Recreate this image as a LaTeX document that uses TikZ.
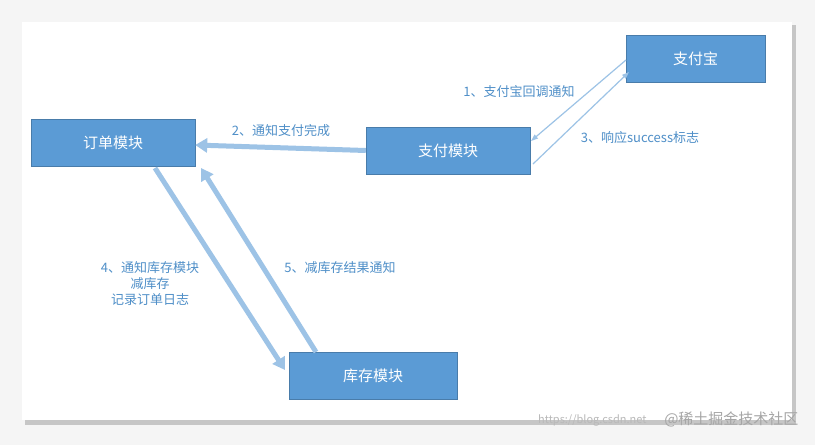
\documentclass[tikz,border=0pt]{standalone}
\usepackage{fontspec}
\setmainfont{Noto Sans CJK SC}
\usetikzlibrary{arrows.meta}
\definecolor{boxc}{HTML}{5B9BD5}
\definecolor{lblc}{HTML}{4F8FC8}
\definecolor{arrc}{HTML}{9DC3E6}
\tikzset{
 mod/.style={draw=boxc!80!black, line width=0.4pt, fill=boxc, text=white, minimum width=#1, minimum height=47pt, inner sep=0pt, font=\fontsize{15}{15}\selectfont},
 lbl/.style={text=lblc, font=\fontsize{13}{16}\selectfont, align=center},
 thick arr/.style={draw=arrc, line width=5pt, -{Triangle[length=12pt,width=14pt]}},
 thin arr/.style={draw=arrc, line width=1.2pt, -{Triangle[length=7pt,width=5pt]}}
}
\begin{document}
\begin{tikzpicture}[x=1pt,y=-1pt]
\useasboundingbox (0,0) rectangle (815,445);
\fill[gray!8] (0,0) rectangle (815,445);
\fill[gray!45] (25,25) rectangle (796,425);
\fill[white] (22,22) rectangle (792,420);
\node[mod=139pt] (zfb) at (695.5,58.5) {支付宝};
\node[mod=164pt] (dd) at (113,143) {订单模块};
\node[mod=164pt] (zf) at (448,150.5) {支付模块};
\node[mod=168pt] (kc) at (373,376) {库存模块};
\coordinate (a1) at (626,60); \coordinate (b1) at (531,141);
\draw[thin arr] (a1) -- (b1);
\coordinate (a3) at (533,164); \coordinate (b3) at (629,72);
\draw[thin arr] (a3) -- (b3);
\draw[thick arr] (zf.west) -- ([yshift=-2pt]dd.east);
\coordinate (a4) at (155,168); \coordinate (b4) at (285,370);
\draw[thick arr] (a4) -- (b4);
\coordinate (a5) at (316,352); \coordinate (b5) at (201,168);
\draw[thick arr] (a5) -- (b5);
\node[lbl] (l1) at (519,92) {1、支付宝回调通知};
\node[lbl] (l2) at (281,131) {2、通知支付完成};
\node[lbl] (l3) at (640,138) {3、响应success标志};
\node[lbl] (l4) at (150,284) {4、通知库存模块\\减库存\\记录订单日志};
\node[lbl] (l5) at (340,268) {5、减库存结果通知};
\node[text=gray!55, font=\fontsize{11}{12}\selectfont, anchor=east] (wm1) at (650,420) {https://blog.csdn.net};
\node[text=gray!70, font=\fontsize{15}{15}\selectfont, anchor=east] (wm) at (802,419) {@稀土掘金技术社区};
\end{tikzpicture}
\end{document}
